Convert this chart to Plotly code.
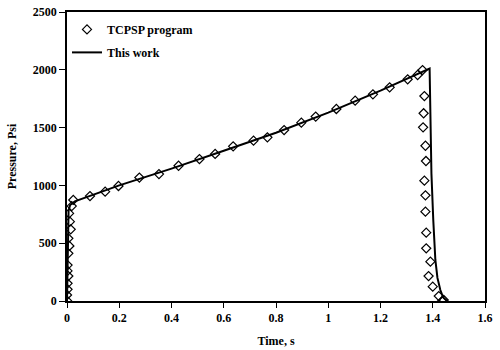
import plotly.graph_objects as go

# TCPSP program (diamonds)
tcpsp_time = [0.000, 0.000, 0.002, 0.002, 0.005, 0.002, 0.002, 0.005, 0.009, 0.005,
              0.014, 0.011, 0.008, 0.018, 0.024,
              0.088, 0.146, 0.197, 0.277, 0.352, 0.427, 0.507, 0.567, 0.636, 0.714,
              0.767, 0.831, 0.897, 0.952, 1.031, 1.103, 1.171, 1.235, 1.304, 1.342, 1.361,
              1.368, 1.365, 1.363, 1.372, 1.374, 1.368, 1.372, 1.372, 1.375, 1.375,
              1.391, 1.384, 1.400, 1.423, 1.442, 1.436]
tcpsp_pressure = [3, 52, 101, 153, 216, 260, 311, 412, 476, 542,
                  620, 686, 758, 821, 874,
                  908, 946, 995, 1068, 1098, 1170, 1228, 1272, 1338, 1387,
                  1416, 1479, 1543, 1595, 1661, 1733, 1788, 1848, 1918, 1955, 1998,
                  1773, 1624, 1502, 1343, 1211, 1041, 914, 773, 591, 456,
                  340, 216, 124, 43, 9, 0]

# This work (line)
work_time = [0.000, 0.003, 0.006, 0.012, 0.030, 0.200, 0.400, 0.600, 0.800, 1.000,
             1.200, 1.388, 1.395, 1.402, 1.410, 1.418, 1.429, 1.440, 1.455]
work_pressure = [0, 600, 780, 830, 862, 1000, 1145, 1300, 1455, 1630,
                 1820, 2010, 1100, 700, 355, 200, 95, 30, 0]

x_ticks = [0, 0.2, 0.4, 0.6, 0.8, 1, 1.2, 1.4, 1.6]
y_ticks = [0, 500, 1000, 1500, 2000, 2500]

FONT = dict(family="Liberation Serif, Times New Roman, serif", size=12, color="black", weight="bold")

fig = go.Figure()
fig.add_trace(go.Scatter(
    x=tcpsp_time, y=tcpsp_pressure, mode="markers", name="TCPSP program",
    legendgroup="a",
    marker=dict(symbol="diamond-open", size=7, color="black", line=dict(width=1.2, color="black")),
))
fig.add_trace(go.Scatter(
    x=work_time, y=work_pressure, mode="lines", name="This work",
    legendgroup="b",
    line=dict(color="black", width=2),
))

fig.update_layout(
    width=500, height=350,
    margin=dict(l=67, r=15, t=12, b=49),
    paper_bgcolor="white", plot_bgcolor="white",
    font=FONT,
    showlegend=True,
    legend=dict(x=0.0, y=0.99, xanchor="left", yanchor="top", bgcolor="rgba(0,0,0,0)",
                font=FONT, tracegroupgap=4, traceorder="grouped"),
    xaxis=dict(range=[0, 1.6], tickvals=x_ticks, ticks="outside", ticklen=5, tickwidth=1,
               tickcolor="black", showline=True, linecolor="black", linewidth=1.5, mirror=True,
               showgrid=False, zeroline=False, tickfont=FONT, automargin=False,
               title=dict(text="Time, s", font=FONT, standoff=12)),
    yaxis=dict(range=[0, 2500], tickvals=y_ticks, ticks="outside", ticklen=6, tickwidth=1,
               tickcolor="black", showline=True, linecolor="black", linewidth=1.5, mirror=True,
               showgrid=False, zeroline=False, tickfont=FONT, automargin=False,
               title=dict(text="Pressure, Psi", font=FONT, standoff=14)),
)

fig.write_html("out.html", config={"displayModeBar": False},
               post_script="document.body.style.margin='0';")
